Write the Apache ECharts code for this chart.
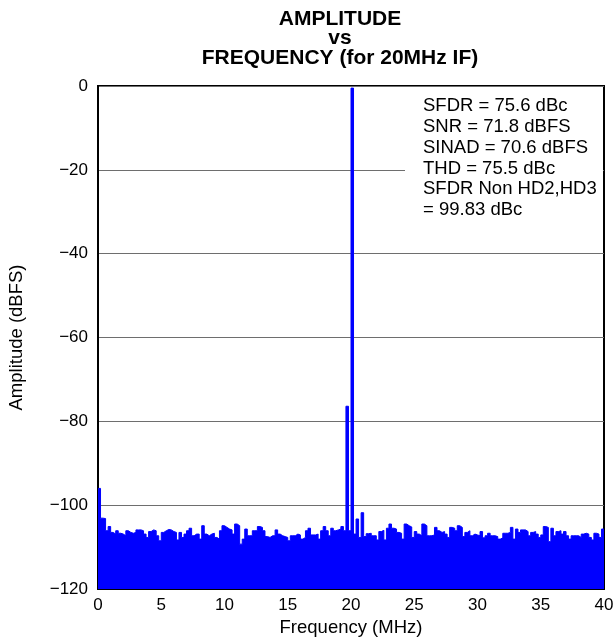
<!DOCTYPE html>
<html>
<head>
<meta charset="utf-8">
<script src="https://cdn.jsdelivr.net/npm/echarts@6/dist/echarts.min.js"></script>
<style>
html,body{margin:0;padding:0;background:#fff;}
#chart{width:616px;height:641px;}
</style>
</head>
<body>
<div id="chart"></div>
<script>
// FFT bin spacing (MHz); bins are centred at 0.1, 0.3, ... 39.9
const binStart = 0.1;
const binStep = 0.2;
// Amplitude (dBFS) of each bin
const amplitude = [
  -96, -103.1, -103.2, -106.1, -105.1, -106.5, -106.9, -106.1, -106.7, -106.9,
  -107.3, -106.1, -106.5, -106.7, -106.5, -105.9, -105.9, -106.1, -106.9, -107.7,
  -106.3, -105.9, -106.1, -107.3, -108.5, -106.5, -106.1, -105.8, -105.9, -106.3,
  -106.5, -108.3, -106.5, -107.7, -106.9, -106.1, -105.5, -107.3, -106.9, -106.9,
  -108.1, -104.9, -106.9, -107.3, -106.9, -106.7, -107.7, -108.1, -106.1, -104.9,
  -105.3, -105.7, -105.9, -106.9, -104.5, -104.9, -109.3, -108.1, -105.7, -107.3,
  -107.3, -106.1, -106.1, -105.1, -105.3, -106.1, -107.5, -107.7, -107.3, -107.3,
  -105.9, -106.9, -107.3, -107.5, -107.7, -108.5, -107.3, -107.3, -106.9, -107.1,
  -108.1, -107.7, -106.1, -105.5, -107.1, -107.1, -106.9, -108.1, -106.1, -105.1,
  -106.1, -107.3, -105.5, -106.1, -105.9, -105.7, -105.1, -106.1, -76.4, -106.1,
  -0.5, -106.9, -103.3, -107.7, -101.8, -107.5, -106.8, -106.7, -107.3, -107.3,
  -108.3, -106.3, -106.0, -108.3, -105.5, -104.5, -105.5, -105.7, -106.5, -106.7,
  -108.1, -104.5, -104.9, -105.2, -107.7, -106.3, -106.9, -107.3, -104.5, -104.9,
  -107.3, -107.3, -107.1, -105.3, -106.1, -106.5, -106.3, -106.9, -107.7, -105.3,
  -105.5, -106.1, -104.9, -105.3, -107.5, -106.5, -106.1, -107.3, -106.9, -107.1,
  -107.3, -106.3, -107.8, -107.3, -106.7, -107.3, -107.3, -107.5, -108.1, -107.8,
  -106.7, -106.7, -106.5, -105.3, -108.1, -105.7, -106.5, -105.9, -105.9, -106.3,
  -107.3, -106.5, -106.3, -106.9, -107.7, -107.1, -105.1, -105.3, -108.7, -105.5,
  -107.3, -106.3, -106.1, -106.9, -106.3, -107.3, -108.1, -107.3, -107.3, -107.3,
  -107.7, -106.9, -106.7, -106.9, -107.7, -108.3, -106.7, -106.9, -107.7, -105.7
];
const xMin = 0, xMax = 40, xInterval = 5;
const yMin = -120, yMax = 0, yInterval = 20;
const titleLines = ['AMPLITUDE', 'vs', 'FREQUENCY (for 20MHz IF)'];
const statsLines = [
  'SFDR = 75.6 dBc',
  'SNR = 71.8 dBFS',
  'SINAD = 70.6 dBFS',
  'THD = 75.5 dBc',
  'SFDR Non HD2,HD3',
  '= 99.83 dBc'
];

const FONT = '"Liberation Sans", Arial, sans-serif';
const data = [];
data.push([xMin, amplitude[0]]);
amplitude.forEach((v, i) => data.push([+(binStart + i * binStep).toFixed(2), v]));
data.push([xMax, amplitude[amplitude.length - 1]]);

const chart = echarts.init(document.getElementById('chart'), null, {renderer: 'canvas'});
chart.setOption({
  animation: false,
  backgroundColor: '#ffffff',
  title: {
    text: titleLines.join('\n'),
    left: 335, top: 4, textAlign: 'center',
    textStyle: {fontFamily: FONT, fontWeight: 'bold', fontSize: 21, lineHeight: 19.5, color: '#000'}
  },
  grid: {left: 98, right: 12, top: 86, bottom: 52, outerBoundsMode: 'none', containLabel: false,
    show: true, borderColor: '#000', borderWidth: 2, backgroundColor: 'transparent'},
  xAxis: {
    type: 'value', min: xMin, max: xMax, interval: xInterval,
    name: 'Frequency (MHz)', nameLocation: 'middle', nameGap: 28,
    nameTextStyle: {fontFamily: FONT, fontSize: 18.5, color: '#000'},
    axisLine: {onZero: false, lineStyle: {color: '#000', width: 2}},
    axisTick: {inside: true, length: 15, lineStyle: {color: '#000', width: 2}},
    axisLabel: {fontFamily: FONT, fontSize: 17, color: '#000', margin: 8},
    splitLine: {show: false}
  },
  yAxis: {
    type: 'value', min: yMin, max: yMax, interval: yInterval,
    name: 'Amplitude (dBFS)', nameLocation: 'middle', nameGap: 72, nameRotate: 90,
    nameTextStyle: {fontFamily: FONT, fontSize: 18.5, color: '#000'},
    axisLine: {lineStyle: {color: '#000', width: 2}},
    axisTick: {show: false},
    axisLabel: {fontFamily: FONT, fontSize: 17, color: '#000', margin: 10,
      formatter: v => String(v).replace('-', '\u2212')},
    splitLine: {show: true, lineStyle: {color: '#6e6e6e', width: 1}}
  },
  series: [{
    type: 'line', data: data, step: 'middle', showSymbol: false, symbol: 'none',
    lineStyle: {color: '#0000ff', width: 1},
    areaStyle: {color: '#0000ff', opacity: 1, origin: 'start'},
    z: 2
  }],
  graphic: [
    {type: 'rect', left: 405, top: 89, z: 100, zlevel: 0,
      shape: {width: 198, height: 146}, style: {fill: '#ffffff'}},
    {type: 'text', left: 423, top: 96, z: 101, zlevel: 0,
      style: {text: statsLines.join('\n'), font: '18.5px ' + FONT, lineHeight: 20.7, fill: '#000'}}
  ]
});
</script>
</body>
</html>
